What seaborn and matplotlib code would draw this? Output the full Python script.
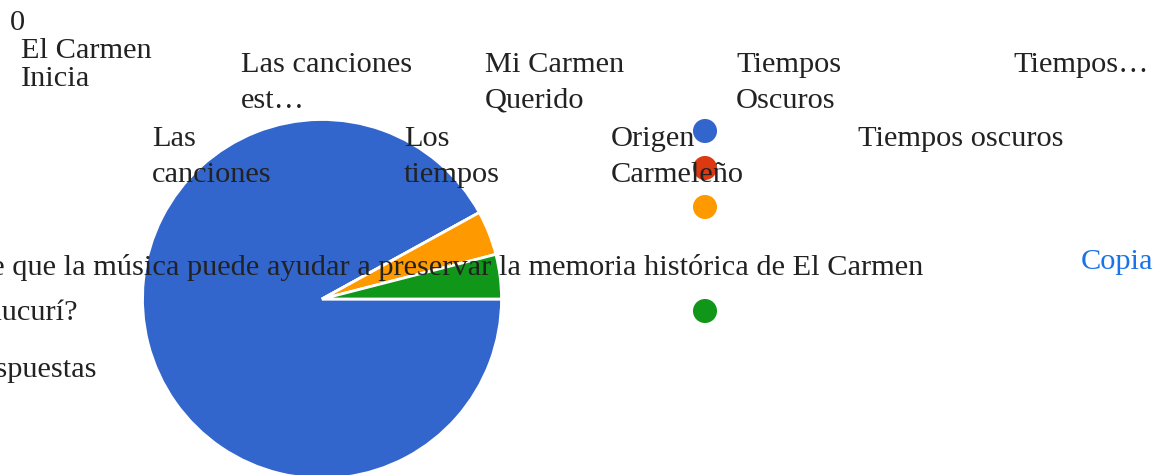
import matplotlib
matplotlib.use("Agg")
import matplotlib.pyplot as plt
import seaborn as sns
import pandas as pd

# datos de la grafica
answers = ["Sí", "No", "Tal vez", "Otro"]
counts = [23, 0, 1, 1]
slice_colors = ["#3366cc", "#dc3912", "#ff9900", "#109618"]

top_labels = ["El Carmen\nInicia", "Las canciones\nest…", "Mi Carmen\nQuerido",
              "Tiempos\nOscuros", "Tiempos…", "Las\ncanciones", "Los\ntiempos",
              "Origen\nCarmeleño", "Tiempos oscuros"]
question = "¿Cree que la música puede ayudar a preservar la memoria histórica de El Carmen"
question2 = "de Chucurí?"
n_answers = "25 respuestas"

W, H = 1153, 475
sns.set_theme(style="white")
plt.rcParams["font.family"] = ["Liberation Serif", "DejaVu Serif"]
TXT = "#222222"
FS = 21.9

fig = plt.figure(figsize=(W / 100, H / 100), dpi=100)

# pastel
cx, cy, r = 322, 299, 179.5
ax = fig.add_axes([(cx - r) / W, (H - cy - r) / H, 2 * r / W, 2 * r / H])
ax.pie(counts, colors=slice_colors, startangle=0, counterclock=False,
       wedgeprops=dict(edgecolor="white", linewidth=2))
ax.set_xlim(-1, 1)
ax.set_ylim(-1, 1)
ax.set_aspect("equal")
ax.axis("off")


def put(x, y, s, **kw):
    fig.text(x / W, 1 - y / H, s, va="baseline", fontsize=kw.pop("fontsize", FS),
             color=kw.pop("color", TXT), **kw)


put(10, 30, "0")
# posiciones (x, primera linea base, salto de linea)
label_pos = [(21, 58, 28), (241, 72, 36), (485, 72, 36), (736, 72, 36), (1013, 72, 36),
             (152, 146, 36), (404, 146, 36), (611, 146, 36), (858, 146, 36)]
for txt, (x, y, gap) in zip(top_labels, label_pos):
    for i, line in enumerate(txt.split("\n")):
        put(x, y + i * gap, line)

put(923, 275, question, ha="right")
put(78, 320, question2, ha="right")
put(97, 377, n_answers, ha="right")
put(1081, 269, "Copia", color="#1a73e8")

# puntos de leyenda
lax = fig.add_axes([0, 0, 1, 1])
dots = pd.DataFrame({"answer": answers, "x": [705, 705, 705, 705],
                     "y": [H - 131, H - 168, H - 207, H - 311]})
sns.scatterplot(data=dots, x="x", y="y", hue="answer", palette=slice_colors,
                s=300, linewidth=0, legend=False, ax=lax)
lax.set_xlim(0, W)
lax.set_ylim(0, H)
lax.axis("off")
lax.patch.set_alpha(0)

fig.savefig("out.png", dpi=100)
